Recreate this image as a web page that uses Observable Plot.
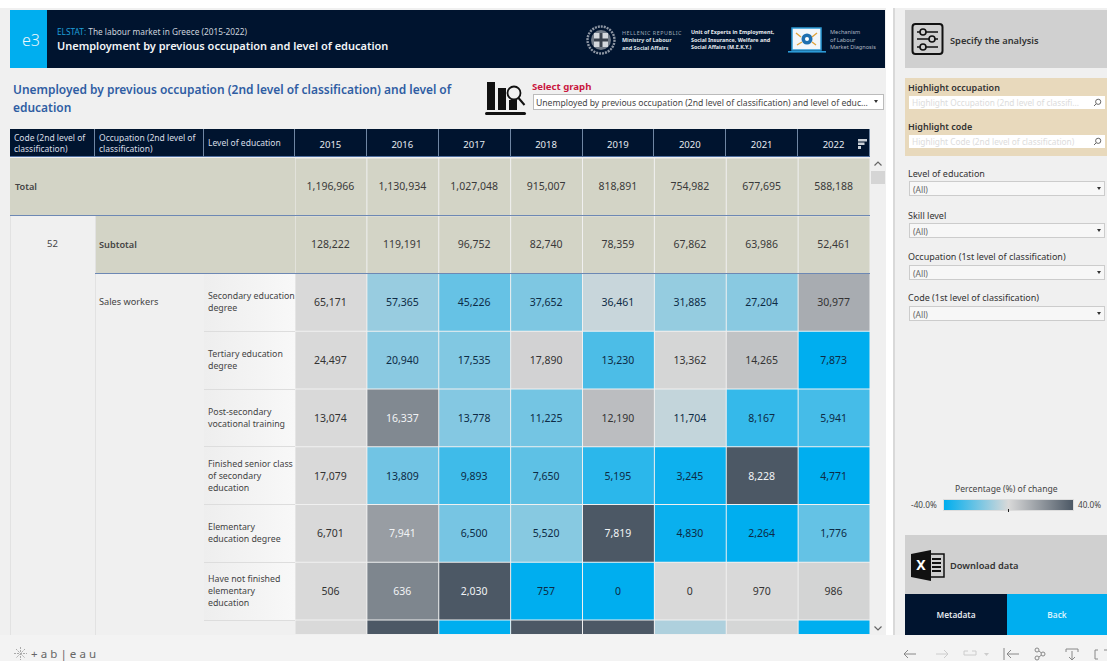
<!DOCTYPE html>
<html><head><meta charset="utf-8">
<script src="https://cdn.jsdelivr.net/npm/d3@7"></script>
<script src="https://cdn.jsdelivr.net/npm/@observablehq/plot@0.6"></script>
<style>
html,body{margin:0;padding:0;background:#f0f0f0;width:1107px;height:661px;overflow:hidden;font-family:"Noto Sans",sans-serif;color:#333}
.a{position:absolute;box-sizing:border-box}
.t{position:absolute;white-space:nowrap;line-height:1}
.combo{position:absolute;box-sizing:border-box;left:909px;width:196px;height:15px;background:#f7f7f7;border:1px solid #ccc;font-size:8.5px;color:#666;padding:2px 0 0 3px}
.combo:after{content:"";position:absolute;right:3px;top:5px;border:2.5px solid transparent;border-top:3px solid #333}
.lab{position:absolute;left:908px;font-size:9px;color:#333;line-height:1;white-space:nowrap}
.hc{position:absolute;top:129px;height:28px;background:#00142f;color:#d8dee6;font-size:8.5px;line-height:11px;display:flex;align-items:center;padding-left:4px;border-right:1px solid #6f86a3;border-bottom:1px solid #4f6f9f;box-sizing:border-box}
.lv{position:absolute;left:204px;width:91px;height:57.75px;background:linear-gradient(90deg,#eee,#f8f8f8);border-bottom:1px solid #ddd;font-size:8.8px;line-height:12px;color:#444;display:flex;align-items:center;padding-left:4px;box-sizing:border-box;white-space:pre-line}
</style></head><body>
<div id="root"></div>
<script>
const years = ["2015","2016","2017","2018","2019","2020","2021","2022"];
const colHeaders = ["Code (2nd level of classification)","Occupation (2nd level of classification)","Level of education"];
const levels = ["Secondary education degree","Tertiary education degree","Post-secondary vocational training","Finished senior class of secondary education","Elementary education degree","Have not finished elementary education"];
const levelLines = ["Secondary education\ndegree","Tertiary education\ndegree","Post-secondary\nvocational training","Finished senior class\nof secondary\neducation","Elementary\neducation degree","Have not finished\nelementary\neducation"];
const totalRow = [1196966,1130934,1027048,915007,818891,754982,677695,588188];
const subtotalRow = [128222,119191,96752,82740,78359,67862,63986,52461];
const secondary = [65171,57365,45226,37652,36461,31885,27204,30977];
const tertiary = [24497,20940,17535,17890,13230,13362,14265,7873];
const postSecondary = [13074,16337,13778,11225,12190,11704,8167,5941];
const seniorClass = [17079,13809,9893,7650,5195,3245,8228,4771];
const elementary = [6701,7941,6500,5520,7819,4830,2264,1776];
const notFinished = [506,636,2030,757,0,0,970,986];
// The next row is cut off by the scroll area: only the tone of its cells is visible.
const cutOffRowChange = [0,40,-40,40,40,-8,1,-40];
const legendMin = -40, legendMax = 40;
const colorStops = ["#00aeef","#d9d9d9","#4c5865"];

const rowNames = ["Total","Subtotal",...levels,"cut-off"];
const heat = [secondary,tertiary,postSecondary,seniorClass,elementary,notFinished];
const fmt = d3.format(",");
const khaki = [];
[[totalRow,"Total"],[subtotalRow,"Subtotal"]].forEach(([vals,row]) =>
  vals.forEach((v,i)=>khaki.push({year:years[i],row,value:v})));
const cells = [];
heat.forEach((vals,r)=>vals.forEach((v,i)=>{
  let change = i ? (v-vals[i-1])/vals[i-1]*100 : 0;
  if(!isFinite(change)) change = 0;
  cells.push({year:years[i],row:levels[r],value:v,change});
}));
const cutOff = cutOffRowChange.map((c,i)=>({year:years[i],row:"cut-off",change:c}));
const textColor = d => d.change>=15 ? "#f1f3f5" : d.change<=-3 ? "#0d2b45" : "#333";

const chart = Plot.plot({
  width:575, height:505, marginTop:29, marginLeft:0, marginRight:0, marginBottom:0,
  style:{background:"transparent",fontFamily:'"Noto Sans",sans-serif'},
  x:{domain:years, range:[0,575], padding:0, round:false, axis:null},
  y:{domain:rowNames, range:[29,29+57.75*9], padding:0, round:false, axis:null},
  color:{type:"linear", domain:[legendMin,0,legendMax], range:colorStops, clamp:true},
  marks:[
    Plot.axisX({anchor:"top", tickSize:0, tickPadding:11, label:null, color:"#e6eaf0", fontSize:9.5, dx:-1}),
    Plot.cell(khaki,{x:"year",y:"row",fill:"#d3d4c6",inset:0.5}),
    Plot.cell(cells.concat(cutOff),{x:"year",y:"row",fill:"change",inset:0.5}),
    Plot.text(khaki,{x:"year",y:"row",text:d=>fmt(d.value),fill:"#3a3a3a",fontSize:10.5,dy:-1,dx:-1}),
    Plot.text(cells,{x:"year",y:"row",text:d=>fmt(d.value),fill:textColor,fontSize:10.5,dx:-1})
  ]
});

const root = document.getElementById("root");
let h = "";
h += `<div class="a" style="left:0;top:0;width:1107px;height:8px;background:#fff"></div>`;
h += `<div class="a" style="left:886px;top:0;width:8px;height:635px;background:#fff"></div>`;
h += `<div class="a" style="left:893px;top:8px;width:2px;height:627px;background:#d9d9d9"></div>`;
// banner
h += `<div class="a" style="left:10px;top:10px;width:875px;height:58px;background:#00142f"></div>`;
h += `<div class="a" style="left:10px;top:10px;width:37px;height:58px;background:#00aeef"></div>`;
h += `<div class="t" style="left:22px;top:32px;font-size:16px;color:#eaf7fd;font-weight:300">e3</div>`;
h += `<div class="t" style="left:57px;top:28px;font-size:8.3px;color:#ccd3dc"><span style="color:#1f9fd8">ELSTAT:</span> The labour market in Greece (2015-2022)</div>`;
h += `<div class="t" style="left:57px;top:40px;font-size:11px;font-weight:600;color:#f2f4f7">Unemployment by previous occupation and level of education</div>`;
// emblem
h += `<svg class="a" style="left:586px;top:25px" width="30" height="30" viewBox="0 0 30 30"><circle cx="15" cy="15" r="13.5" fill="none" stroke="#8d96a3" stroke-width="2.4" stroke-dasharray="2 1"/><circle cx="15" cy="15" r="10" fill="#6f7986"/><rect x="8" y="8" width="14" height="14" fill="#d4d8dd"/><path d="M15 8v14M8 15h14" stroke="#39414d" stroke-width="3"/></svg>`;
h += `<div class="t" style="left:622px;top:30px;font-size:5.4px;line-height:7.5px;color:#9ea8b5;letter-spacing:.5px;white-space:pre">HELLENIC REPUBLIC</div>`;
h += `<div class="t" style="left:622px;top:37px;font-size:5.4px;line-height:7.5px;color:#dfe3e8;font-weight:700;white-space:pre">Ministry of Labour\nand Social Affairs</div>`;
h += `<div class="t" style="left:691px;top:29px;font-size:5.4px;line-height:7.5px;color:#e8ebef;font-weight:700;white-space:pre">Unit of Experts in Employment,\nSocial Insurance, Welfare and\nSocial Affairs (M.E.K.Y.)</div>`;
h += `<svg class="a" style="left:788px;top:27px" width="38" height="27" viewBox="0 0 38 27"><rect x="4" y="1" width="29" height="22" fill="#f2f6fa" stroke="#2b9ad6" stroke-width="1.5"/><rect x="0" y="24" width="38" height="1.6" fill="#2b9ad6"/><circle cx="19" cy="12" r="5.5" fill="#1e6fb0"/><circle cx="19" cy="12" r="2" fill="#fff"/><path d="M8 6l5 4M29 6l-5 4M9 18l5-3M28 18l-4-3" stroke="#e0a23a" stroke-width="1.4"/></svg>`;
h += `<div class="t" style="left:830px;top:29px;font-size:5.6px;line-height:7.5px;color:#aeb6c1;white-space:pre">Mechanism\nof Labour\nMarket Diagnosis</div>`;
// subtitle
h += `<div class="a" style="left:13px;top:81px;width:455px;font-size:11.95px;line-height:18px;font-weight:600;color:#2f5da3">Unemployed by previous occupation (2nd level of classification) and level of education</div>`;
// graph icon
h += `<svg class="a" style="left:485px;top:80px" width="42" height="37" viewBox="0 0 42 37"><rect x="2" y="2" width="8" height="28" fill="#111"/><rect x="13" y="8" width="8" height="22" fill="#111"/><rect x="24" y="20" width="8" height="10" fill="#111"/><circle cx="29" cy="13" r="6.5" fill="#f0f0f0" stroke="#111" stroke-width="1.8"/><path d="M33.5 18l6 7" stroke="#111" stroke-width="2"/><rect x="0" y="32" width="41" height="3" rx="1.5" fill="#111"/></svg>`;
h += `<div class="t" style="left:532px;top:82px;font-size:9.6px;font-weight:700;color:#c9173f">Select graph</div>`;
h += `<div class="a" style="left:533px;top:94px;width:351px;height:16px;background:#fff;border:1px solid #bbb;font-size:8.6px;color:#444;padding:2px 0 0 2px;white-space:nowrap;overflow:hidden">Unemployed by previous occupation (2nd level of classification) and level of educ...<span style="position:absolute;right:5px;top:5px;border:2.5px solid transparent;border-top:3px solid #333"></span></div>`;
// table header
const hx=[[10,85],[95,109],[204,91]];
colHeaders.forEach((c,i)=>{h+=`<div class="hc" style="left:${hx[i][0]}px;width:${hx[i][1]}px">${c}</div>`;});
h += `<div class="a" style="left:295px;top:129px;width:575px;height:28px;background:#00142f;border-bottom:1px solid #4f6f9f;display:flex">${years.map(()=>`<div style="flex:1;border-right:1px solid #6f86a3"></div>`).join("")}</div>`;
// left columns
h += `<div class="a" style="left:10px;top:158px;width:285px;height:57px;background:#d3d4c6;font-size:9.2px;font-weight:600;color:#444"><span style="position:absolute;left:5px;top:22px">Total</span></div>`;
h += `<div class="a" style="left:95px;top:216px;width:200px;height:57px;background:#d3d4c6;font-size:9.2px;font-weight:600;color:#444"><span style="position:absolute;left:4px;top:22px">Subtotal</span></div>`;
h += `<div class="a" style="left:10px;top:215px;width:860px;height:1px;background:#6d88b4;z-index:3"></div>`;
h += `<div class="a" style="left:95px;top:273px;width:775px;height:1px;background:#6d88b4;z-index:3"></div>`;
h += `<div class="t" style="left:47px;top:239px;font-size:9.5px;color:#444">52</div>`;
h += `<div class="t" style="left:99px;top:297px;font-size:9.2px;color:#444">Sales workers</div>`;
h += `<div class="a" style="left:95px;top:216px;width:1px;height:419px;background:#e2e2e2"></div>`;
h += `<div class="a" style="left:10px;top:216px;width:1px;height:419px;background:#e2e2e2"></div>`;
levelLines.forEach((l,i)=>{h+=`<div class="lv" style="top:${274+i*57.75}px">${l}</div>`;});
// scrollbar
h += `<svg class="a" style="left:873px;top:160px" width="10" height="7" viewBox="0 0 10 7"><path d="M1.5 5.5L5 2l3.5 3.5" fill="none" stroke="#666" stroke-width="1.2"/></svg>`;
h += `<div class="a" style="left:871px;top:171px;width:14px;height:13px;background:#d5d5d5"></div>`;
h += `<svg class="a" style="left:873px;top:625px" width="10" height="7" viewBox="0 0 10 7"><path d="M1.5 1.5L5 5l3.5-3.5" fill="none" stroke="#666" stroke-width="1.2"/></svg>`;
// sort icon
h += `<svg class="a" style="left:858px;top:139px;z-index:5" width="9" height="10" viewBox="0 0 9 10"><path d="M0 0h9v2.5H0zM0 3.5h6.5V6H0zM0 7h3v3H0z" fill="#c9cfd6"/></svg>`;
// right panel
const glass = `<svg style="position:absolute;right:3px;top:2px" width="9" height="9" viewBox="0 0 9 9"><circle cx="5.2" cy="3.8" r="2.6" fill="none" stroke="#666"/><path d="M3.2 5.8L1 8" stroke="#666"/></svg>`;
h += `<div class="a" style="left:905px;top:10px;width:202px;height:58px;background:#d0d0d0"></div>`;
h += `<svg class="a" style="left:911px;top:22px" width="33" height="35" viewBox="0 0 33 35"><rect x="1.5" y="2" width="30" height="30" rx="3" fill="none" stroke="#111" stroke-width="2"/><g stroke="#111" stroke-width="1.6" fill="#d0d0d0"><path d="M6 10h21M6 17h21M6 25h21"/><circle cx="12" cy="10" r="3"/><circle cx="21" cy="17" r="3"/><circle cx="12" cy="25" r="3"/></g></svg>`;
h += `<div class="t" style="left:950px;top:36px;font-size:9.3px;font-weight:600;color:#333">Specify the analysis</div>`;
h += `<div class="a" style="left:905px;top:78px;width:202px;height:78px;background:#e8d9bc"></div>`;
h += `<div class="lab" style="top:83px;font-weight:600">Highlight occupation</div>`;
h += `<div class="a" style="left:909px;top:96px;width:196px;height:13px;background:#fff;font-size:8.3px;color:#dcdcdc;padding:1px 0 0 3px;white-space:nowrap">Highlight Occupation (2nd level of classifi...${glass}</div>`;
h += `<div class="lab" style="top:122px;font-weight:600">Highlight code</div>`;
h += `<div class="a" style="left:909px;top:135px;width:196px;height:13px;background:#fff;font-size:8.3px;color:#dcdcdc;padding:1px 0 0 3px;white-space:nowrap">Highlight Code (2nd level of classification)${glass}</div>`;
[["Level of education",169,181],["Skill level",211,223],["Occupation (1st level of classification)",252,265],["Code (1st level of classification)",293,306]].forEach(([l,a,b])=>{
  h+=`<div class="lab" style="top:${a}px">${l}</div><div class="combo" style="top:${b}px">(All)</div>`;
});
// legend
h += `<div class="t" style="left:955px;top:485px;font-size:8.6px;color:#444">Percentage (%) of change</div>`;
h += `<div class="t" style="left:911px;top:501px;font-size:8.2px;color:#444">${legendMin.toFixed(1)}%</div>`;
h += `<div class="t" style="left:1078px;top:501px;font-size:8.2px;color:#444">${legendMax.toFixed(1)}%</div>`;
h += `<div class="a" style="left:943px;top:499px;width:131px;height:12px;background:linear-gradient(90deg,${colorStops.join(",")});border:1px solid #ddd"></div>`;
h += `<div class="a" style="left:1008px;top:509px;width:1px;height:3px;background:#222"></div>`;
// download + buttons
h += `<div class="a" style="left:905px;top:535px;width:202px;height:59px;background:#d0d0d0"></div>`;
h += `<svg class="a" style="left:911px;top:550px" width="34" height="31" viewBox="0 0 34 31"><rect x="18" y="4" width="15" height="23" fill="#d0d0d0" stroke="#111" stroke-width="1.5"/><path d="M21 9h9M21 13h9M21 17h9M21 21h9" stroke="#111" stroke-width="1.8"/><path d="M0 4L20 0V31L0 27Z" fill="#111"/><text x="10" y="20" text-anchor="middle" font-size="14" font-weight="700" fill="#fff" font-family="Noto Sans">X</text></svg>`;
h += `<div class="t" style="left:950px;top:561px;font-size:9.3px;font-weight:600;color:#333">Download data</div>`;
h += `<div class="a" style="left:905px;top:594px;width:102px;height:41px;background:#00142f;color:#e5e9ee;font-size:8.3px;font-weight:600;text-align:center;line-height:42px">Metadata</div>`;
h += `<div class="a" style="left:1007px;top:594px;width:100px;height:41px;background:#00aeef;color:#d9f3fd;font-size:8.3px;font-weight:600;text-align:center;line-height:42px">Back</div>`;
// tableau bar
h += `<div class="a" style="left:0;top:635px;width:1107px;height:26px;background:#f3f3f3"></div>`;
h += `<svg class="a" style="left:13px;top:646px" width="15" height="15" viewBox="0 0 15 15"><path d="M7.5 1v13M1 7.5h13M3 3l9 9M12 3l-9 9" stroke="#aaa" stroke-width="1" stroke-dasharray="2 1"/></svg>`;
h += `<div class="t" style="left:31px;top:648px;font-size:11.5px;color:#666;letter-spacing:3.1px">+ab|eau</div>`;
h += `<svg class="a" style="left:900px;top:645px;fill:none;stroke:#888;stroke-width:1" width="207" height="16" viewBox="0 0 207 16">
<path d="M4 9h12M4 9l4-4M4 9l4 4"/>
<path d="M36 9h12M48 9l-4-4M48 9l-4 4" stroke="#ccc"/>
<path d="M64 10h12M72 6h4v4M64 10V6h4" stroke="#ccc"/><path d="M84 8l2.5 3 2.5-3z" fill="#ccc" stroke="none"/>
<path d="M104 3v12M107 9h12M107 9l4-4M107 9l4 4"/>
<circle cx="137" cy="5" r="2"/><circle cx="143" cy="9" r="2"/><circle cx="137" cy="13" r="2"/><path d="M139 6l2.5 2M139 12l2.500-2"/>
<path d="M166 7V4h12v3M172 6v9M169 12l3 3 3-3"/>
<path d="M198 5h-3v9h3M204 5h3"/>
</svg>`;
root.innerHTML = h;
const wrap = document.createElement("div");
wrap.className="a";
wrap.style.cssText="left:295px;top:129px;width:575px;height:506px;overflow:hidden;z-index:2";
wrap.appendChild(chart);
root.appendChild(wrap);
</script>
</body></html>
